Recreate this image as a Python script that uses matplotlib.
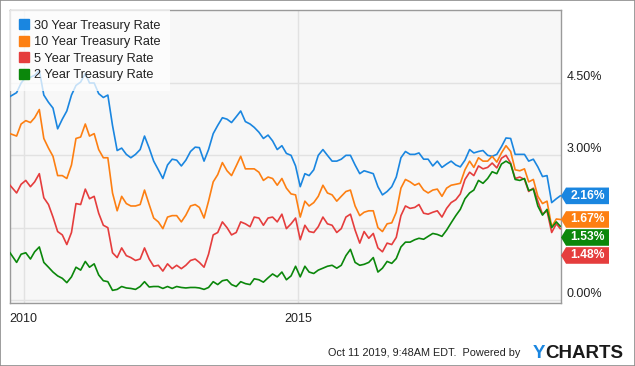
import numpy as np
import pandas as pd
import matplotlib
matplotlib.use("Agg")
import matplotlib.pyplot as plt
from matplotlib.lines import Line2D
from matplotlib.patches import Polygon, Rectangle

plt.rcParams['font.family'] = ['Liberation Sans', 'DejaVu Sans']

# ---------- DATA ----------
# one value per month, Oct 2009 .. Sep 2019, then the last quote (Oct 11 2019)
SERIES_NAMES = ["30 Year Treasury Rate", "10 Year Treasury Rate",
                "5 Year Treasury Rate", "2 Year Treasury Rate"]
SERIES_COLORS = ["#1a86e0", "#fd7f12", "#e53d3d", "#0b870b"]

RATE_30Y = [4.22, 4.30, 4.50,
            4.62, 4.62, 4.66, 4.76, 4.25, 4.10, 3.98, 3.55, 3.75, 3.92, 4.25, 4.45,
            4.52, 4.70, 4.50, 4.50, 4.28, 4.20, 4.25, 3.62, 3.10, 3.15, 3.02, 2.95,
            3.02, 3.12, 3.40, 3.15, 2.88, 2.70, 2.52, 2.80, 2.92, 2.90, 2.78, 2.90,
            3.08, 3.17, 3.16, 2.88, 3.12, 3.45, 3.62, 3.78, 3.75, 3.68, 3.80, 3.92,
            3.70, 3.65, 3.58, 3.48, 3.35, 3.42, 3.30, 3.12, 3.20, 3.04, 3.00, 2.78,
            2.35, 2.62, 2.58, 2.70, 3.00, 3.12, 3.00, 2.88, 2.88, 2.92, 3.00, 3.00,
            2.80, 2.62, 2.68, 2.65, 2.62, 2.35, 2.18, 2.25, 2.35, 2.55, 2.95, 3.08,
            3.02, 3.02, 3.05, 2.92, 2.92, 2.78, 2.88, 2.75, 2.82, 2.88, 2.80, 2.76,
            2.90, 3.12, 3.05, 3.08, 3.10, 3.00, 2.98, 3.02, 3.18, 3.36, 3.35, 3.02,
            3.02, 3.02, 2.88, 2.92, 2.76, 2.56, 2.58, 2.02, 2.10, 2.16]

RATE_10Y = [3.45, 3.40, 3.65,
            3.72, 3.68, 3.78, 3.95, 3.35, 3.15, 2.98, 2.58, 2.58, 2.52, 2.80, 3.35,
            3.38, 3.65, 3.40, 3.45, 3.12, 2.95, 2.95, 2.22, 1.85, 2.15, 2.00, 1.95,
            1.95, 1.98, 2.28, 1.98, 1.70, 1.62, 1.48, 1.72, 1.75, 1.75, 1.62, 1.76,
            1.95, 1.98, 1.92, 1.70, 2.05, 2.45, 2.60, 2.85, 2.68, 2.58, 2.78, 2.98,
            2.72, 2.72, 2.72, 2.65, 2.48, 2.55, 2.52, 2.38, 2.52, 2.32, 2.20, 2.18,
            1.72, 2.05, 1.95, 2.02, 2.15, 2.38, 2.22, 2.18, 2.05, 2.15, 2.25, 2.28,
            1.95, 1.75, 1.82, 1.85, 1.85, 1.50, 1.42, 1.58, 1.60, 1.82, 2.32, 2.50,
            2.45, 2.38, 2.42, 2.28, 2.22, 2.28, 2.30, 2.15, 2.32, 2.38, 2.40, 2.42,
            2.70, 2.88, 2.75, 2.95, 2.88, 2.88, 2.98, 2.86, 3.05, 3.20, 3.08, 2.70,
            2.68, 2.72, 2.45, 2.50, 2.15, 2.00, 2.05, 1.52, 1.68, 1.67]

RATE_5Y = [2.38, 2.22, 2.40,
           2.48, 2.35, 2.45, 2.62, 2.12, 1.98, 1.72, 1.42, 1.35, 1.15, 1.40, 2.00,
           1.98, 2.30, 2.10, 2.15, 1.80, 1.55, 1.50, 0.98, 0.88, 1.08, 0.92, 0.88,
           0.82, 0.85, 1.08, 0.85, 0.70, 0.72, 0.60, 0.75, 0.65, 0.72, 0.65, 0.72,
           0.82, 0.85, 0.78, 0.68, 0.95, 1.35, 1.40, 1.62, 1.50, 1.35, 1.40, 1.62,
           1.58, 1.52, 1.72, 1.70, 1.55, 1.70, 1.72, 1.62, 1.78, 1.48, 1.58, 1.70,
           1.25, 1.55, 1.42, 1.40, 1.52, 1.72, 1.58, 1.55, 1.40, 1.48, 1.72, 1.78,
           1.45, 1.18, 1.42, 1.28, 1.38, 1.08, 1.00, 1.18, 1.15, 1.30, 1.75, 1.95,
           1.90, 1.92, 1.98, 1.80, 1.78, 1.82, 1.85, 1.72, 1.90, 2.02, 2.08, 2.20,
           2.50, 2.65, 2.58, 2.78, 2.72, 2.75, 2.84, 2.74, 2.94, 3.00, 2.84, 2.52,
           2.55, 2.50, 2.25, 2.32, 2.05, 1.78, 1.85, 1.40, 1.58, 1.48]

RATE_2Y = [0.98, 0.78, 0.95,
           0.98, 0.85, 1.00, 1.10, 0.78, 0.68, 0.58, 0.50, 0.45, 0.36, 0.48, 0.68,
           0.62, 0.80, 0.68, 0.75, 0.52, 0.40, 0.38, 0.20, 0.22, 0.28, 0.25, 0.24,
           0.22, 0.28, 0.38, 0.27, 0.28, 0.28, 0.24, 0.28, 0.24, 0.28, 0.26, 0.25,
           0.26, 0.26, 0.25, 0.22, 0.26, 0.38, 0.32, 0.40, 0.42, 0.32, 0.28, 0.38,
           0.34, 0.32, 0.44, 0.42, 0.37, 0.46, 0.54, 0.48, 0.58, 0.42, 0.50, 0.70,
           0.48, 0.70, 0.58, 0.55, 0.62, 0.66, 0.70, 0.72, 0.66, 0.72, 0.92, 1.05,
           0.78, 0.72, 0.74, 0.78, 0.88, 0.58, 0.66, 0.80, 0.76, 0.86, 1.10, 1.20,
           1.20, 1.25, 1.28, 1.26, 1.32, 1.38, 1.36, 1.32, 1.45, 1.60, 1.75, 1.88,
           2.10, 2.22, 2.28, 2.48, 2.42, 2.52, 2.66, 2.62, 2.82, 2.88, 2.82, 2.50,
           2.48, 2.52, 2.27, 2.30, 1.95, 1.76, 1.88, 1.50, 1.62, 1.53]

X_TICKS = ["2010-01-01", "2015-01-01"]
X_TICK_LABELS = ["2010", "2015"]
Y_TICKS = [0.0, 1.5, 3.0, 4.5]
Y_TICK_LABELS = ["0.00%", "", "3.00%", "4.50%"]  # 1.50% sits behind the end tags
FOOTER = "Oct 11 2019, 9:48AM EDT.  Powered by"
# ---------------------------

W_PX, H_PX = 635, 366
Y_MIN, Y_MAX = -0.062, 6.014


def month_dates():
    dates = list(pd.date_range("2009-10-01", periods=120, freq="MS") + pd.Timedelta(days=14))
    dates[0] = pd.Timestamp("2009-10-02")
    dates.append(pd.Timestamp("2019-10-11"))
    return dates


def tag_positions(values, min_gap):
    # push the end labels down so they do not overlap
    order = np.argsort(values)[::-1]
    pos = {}
    prev = None
    for i in order:
        y = values[i]
        if prev is not None and y > prev - min_gap:
            y = prev - min_gap
        pos[i] = y
        prev = y
    return [pos[i] for i in range(len(values))]


def main():
    fig = plt.figure(figsize=(W_PX / 100, H_PX / 100), dpi=100)
    fig.patch.set_facecolor("white")
    fig.patches.append(Rectangle((0, 0), 1, 1, transform=fig.transFigure, fill=False,
                                 edgecolor="#8c8c8c", linewidth=1.2))

    ax_l, ax_b, ax_w, ax_h = 10 / W_PX, 63 / H_PX, 551 / W_PX, 293 / H_PX
    ax = fig.add_axes([ax_l, ax_b, ax_w, ax_h])
    ax.set_facecolor("#f7f7f7")

    dates = month_dates()
    all_series = [RATE_30Y, RATE_10Y, RATE_5Y, RATE_2Y]
    for vals, col in zip(all_series, SERIES_COLORS):
        ax.plot(dates, vals, color=col, linewidth=1.2, zorder=3)

    ax.set_xlim(pd.Timestamp("2009-10-02"), pd.Timestamp("2019-10-16"))
    ax.set_ylim(Y_MIN, Y_MAX)

    ax.set_xticks(pd.to_datetime(X_TICKS))
    ax.set_xticklabels(X_TICK_LABELS)
    ax.set_yticks(Y_TICKS)
    ax.set_yticklabels(Y_TICK_LABELS)
    ax.yaxis.tick_right()
    ax.tick_params(axis="both", length=0, labelsize=9, colors="#222222")
    ax.tick_params(axis="x", pad=7)
    ax.tick_params(axis="y", pad=4)
    for lab in ax.get_yticklabels():
        lab.set_verticalalignment("bottom")
        lab.set_horizontalalignment("left")

    ax.grid(True, color="#e2e2e2", linewidth=1.0, zorder=0)
    ax.set_axisbelow(True)
    for sp in ax.spines.values():
        sp.set_color("#9a9a9a")
        sp.set_linewidth(1.0)

    # legend
    handles = [Line2D([], [], marker="s", linestyle="none", color=c, markersize=6.5)
               for c in SERIES_COLORS]
    leg = ax.legend(handles, SERIES_NAMES, loc="upper left", bbox_to_anchor=(0, 1),
                    frameon=True, fancybox=False, framealpha=0.75, facecolor="white",
                    edgecolor="none", fontsize=9.2, handlelength=0.7, handletextpad=0.45,
                    labelspacing=0.36, borderpad=0.75, borderaxespad=0)
    for t in leg.get_texts():
        t.set_color("#222222")
    leg.set_zorder(5)

    # end value tags on the right
    px_per_unit = ax_h * H_PX / (Y_MAX - Y_MIN)
    axw_px = ax_w * W_PX
    last_vals = [s[-1] for s in all_series]
    tag_y = tag_positions(last_vals, 18 / px_per_unit)
    half = 8.3 / px_per_unit
    x_tip, x_box, x_end = 1.0, 1.0 + 5 / axw_px, 1.0 + 48 / axw_px
    trans = ax.get_yaxis_transform()
    for y, v, col in zip(tag_y, last_vals, SERIES_COLORS):
        poly = Polygon([(x_tip, y), (x_box, y + half), (x_end, y + half),
                        (x_end, y - half), (x_box, y - half)], closed=True,
                       transform=trans, facecolor=col, edgecolor="none", clip_on=False, zorder=6)
        ax.add_patch(poly)
        ax.text((x_box + x_end) / 2, y, f"{v:.2f}%", transform=trans, ha="center",
                va="center", color="white", fontsize=8.7, fontweight="bold", zorder=7,
                clip_on=False)

    # footer
    y_foot = 1 - 353 / H_PX
    fig.text(520 / W_PX, y_foot, FOOTER, ha="right", va="center",
             fontsize=7.8, color="#222222")
    y_logo = fig.text(533 / W_PX, y_foot, "Y", ha="left", va="center",
                      fontsize=13.5, fontweight="bold", color="#1a86e0")
    bb = y_logo.get_window_extent(fig.canvas.get_renderer())
    fig.text(bb.x1 / W_PX, y_foot, "CHARTS", ha="left", va="center",
             fontsize=13.5, fontweight="bold", color="#1a1a1a")

    fig.savefig("out.png", dpi=100)
    plt.close(fig)


if __name__ == "__main__":
    main()
